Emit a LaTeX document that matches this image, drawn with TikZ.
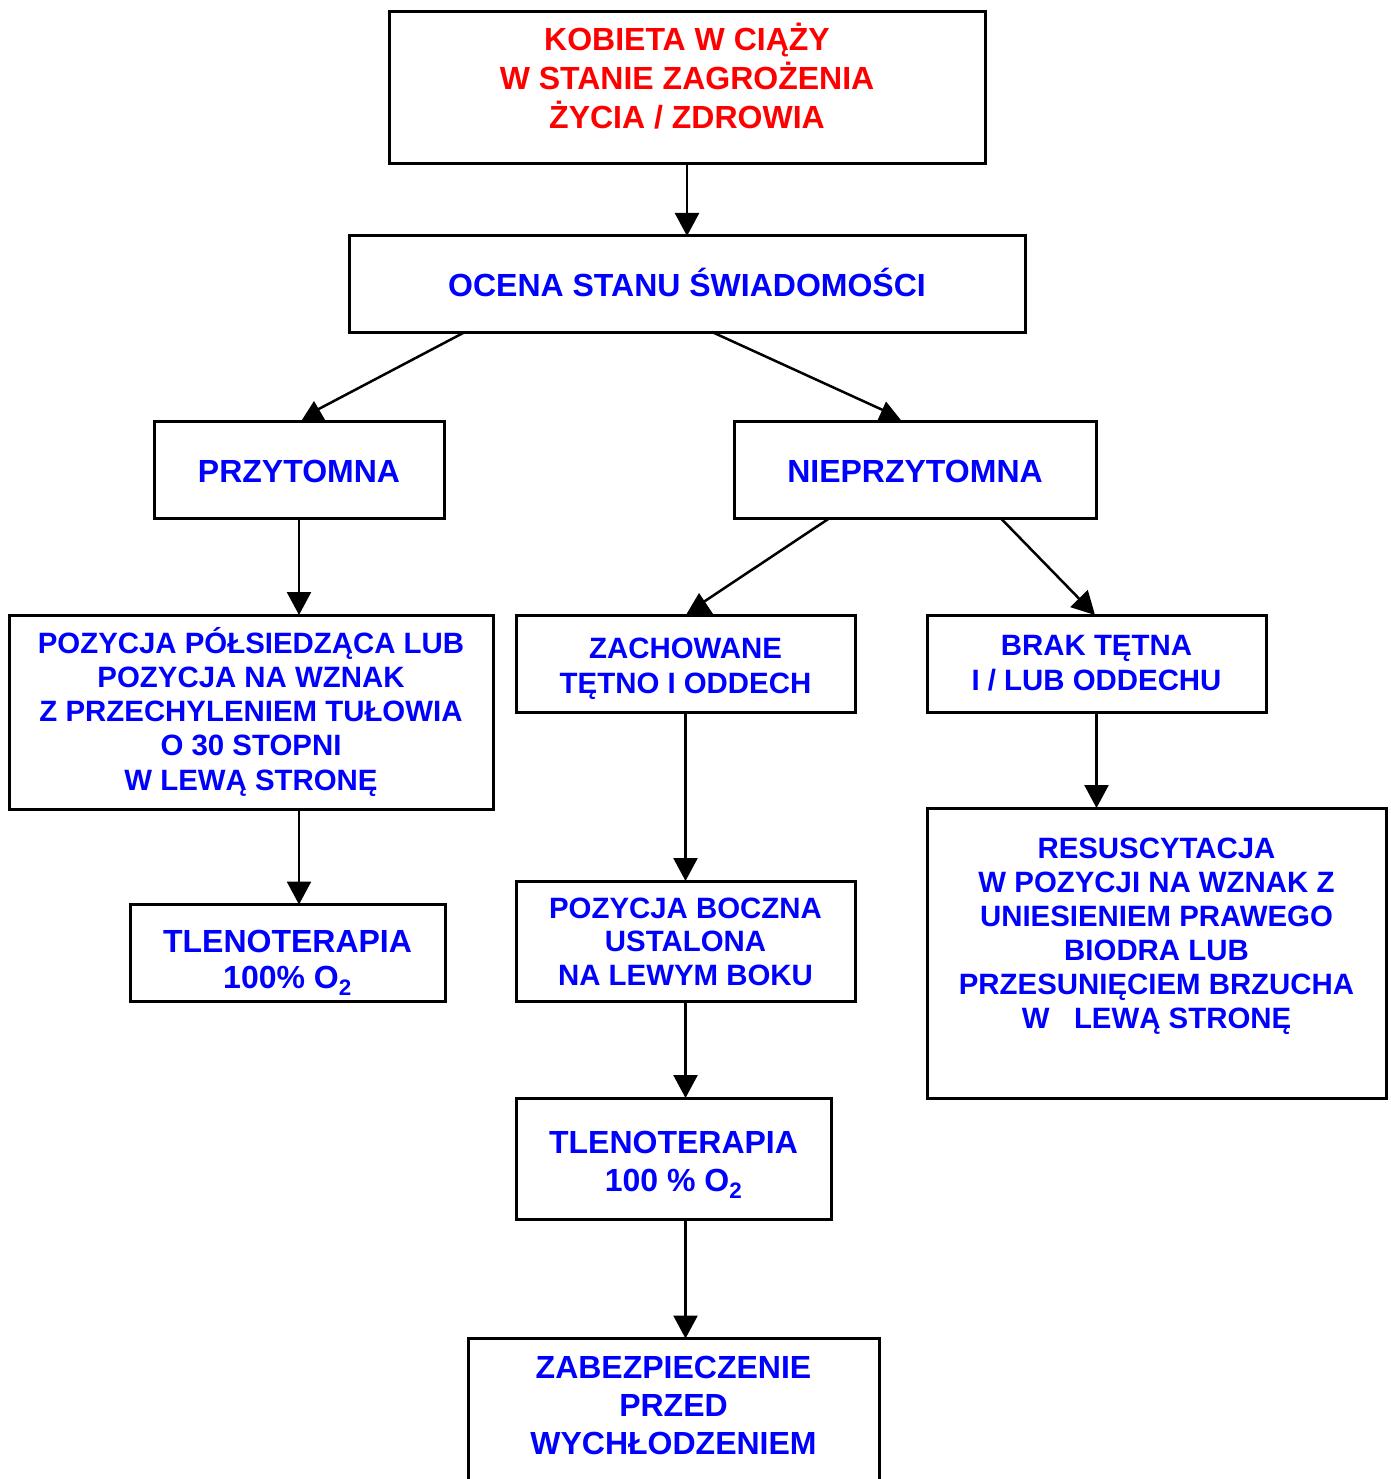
\documentclass[tikz,border=0pt]{standalone}
\usepackage{fontspec}
\setmainfont{Liberation Sans}
\usetikzlibrary{arrows.meta,calc}
\definecolor{tred}{RGB}{255,0,0}
\definecolor{tblue}{RGB}{0,0,255}
\newcommand\fa[1]{\fontsize{32}{#1}\selectfont}
\newcommand\fb[1]{\fontsize{29.4}{#1}\selectfont}
\newcommand\ml[1]{\setlength{\tabcolsep}{0pt}\begin{tabular}[t]{c}#1\end{tabular}}
\tikzset{
  box/.style={draw, line width=3pt, inner sep=0pt, outer sep=0pt},
  txt/.style={anchor=base, inner sep=0pt, outer sep=0pt, font=\bfseries, text=tblue},
  conn/.style={line width=2.5pt},
  arr/.style={conn, -{Triangle[length=23pt,width=24pt]}},
  headfill/.style={fill=black},
}
\begin{document}
\begin{tikzpicture}[x=1pt,y=-1pt]
\useasboundingbox (0,0) rectangle (1390,1479);
% boxes
\node[box, minimum width=596, minimum height=152] (top) at (687,88) {};
\node[box, minimum width=676, minimum height=96] (ocena) at (687,284) {};
\node[box, minimum width=290, minimum height=97] (przy) at (299,470) {};
\node[box, minimum width=362, minimum height=97] (nieprzy) at (915,470) {};
\node[box, minimum width=484, minimum height=194] (pozl) at (251,712) {};
\node[box, minimum width=339, minimum height=97] (zach) at (685.5,663.5) {};
\node[box, minimum width=339, minimum height=97] (brak) at (1096.5,663.5) {};
\node[box, minimum width=315, minimum height=97] (tlenol) at (287.5,953) {};
\node[box, minimum width=339, minimum height=120] (pozb) at (685.5,941) {};
\node[box, minimum width=459, minimum height=290] (resus) at (1156.5,953) {};
\node[box, minimum width=315, minimum height=121] (tlenom) at (673.5,1158.5) {};
\node[box, minimum width=411, minimum height=200] (zabez) at (673.5,1438.5) {};
% texts
\node[txt, text=tred] (topt) at (687,51) {\fa{37}\ml{KOBIETA W CIĄŻY\\W STANIE ZAGROŻENIA\\ŻYCIA / ZDROWIA}};
\node[txt] (ocenat) at (687,296) {\fa{37.5}OCENA STANU ŚWIADOMOŚCI};
\node[txt] (przyt) at (299,482) {\fa{37.5}PRZYTOMNA};
\node[txt] (nieprzyt) at (915,482) {\fa{37.5}NIEPRZYTOMNA};
\node[txt] (pozlt) at (251,653) {\fb{34.25}\ml{POZYCJA PÓŁSIEDZĄCA LUB\\POZYCJA NA WZNAK\\Z PRZECHYLENIEM TUŁOWIA\\O 30 STOPNI\\W LEWĄ STRONĘ}};
\node[txt] (zacht) at (685.5,658) {\fb{35}\ml{ZACHOWANE\\TĘTNO I ODDECH}};
\node[txt] (brakt) at (1096.5,655) {\fb{35}\ml{BRAK TĘTNA\\I / LUB ODDECHU}};
\node[txt] (tlenolt) at (287.5,952) {\fa{36}\ml{TLENOTERAPIA\\100\% O\textsubscript{2}}};
\node[txt] (pozbt) at (685.5,918) {\fb{33.5}\ml{POZYCJA BOCZNA\\USTALONA\\NA LEWYM BOKU}};
\node[txt] (resust) at (1156.5,858) {\fb{34}\ml{RESUSCYTACJA\\W POZYCJI NA WZNAK Z\\UNIESIENIEM PRAWEGO\\BIODRA LUB\\PRZESUNIĘCIEM BRZUCHA\\W~~~LEWĄ STRONĘ}};
\node[txt] (tlenomt) at (673.5,1153) {\fa{38.5}\ml{TLENOTERAPIA\\100 \% O\textsubscript{2}}};
\node[txt] (zabezt) at (673.5,1378) {\fa{38}\ml{ZABEZPIECZENIE\\PRZED\\WYCHŁODZENIEM}};
% connectors
\draw[arr] (top.south) -- (ocena.north);
% diagonal connectors with flat-based heads
\draw[conn] ($(ocena.south)+(-222,0)$) -- ($(przy.north)+(15,-10)$);
\fill[headfill] ($(przy.north)+(2,0)$) -- ($(przy.north)+(27,0)$) -- ($(przy.north)+(15,-20.5)$) -- cycle;
\draw[conn] ($(ocena.south)+(25,0)$) -- ($(nieprzy.north)+(-29,-10)$);
\fill[headfill] ($(nieprzy.north)+(-38,0)$) -- ($(nieprzy.north)+(-13,0)$) -- ($(nieprzy.north)+(-29,-20)$) -- cycle;
\draw[conn] ($(nieprzy.south)+(-86,0)$) -- ($(zach.north)+(13.5,-10)$);
\fill[headfill] ($(zach.north)+(0.5,0)$) -- ($(zach.north)+(27.5,-1)$) -- ($(zach.north)+(13.5,-22)$) -- cycle;
\draw[arr] ($(nieprzy.south)+(86,0)$) -- ($(brak.north)+(-1.5,0)$);
\draw[arr] (przy.south) -- (przy.south |- pozl.north);
\draw[arr] (przy.south |- pozl.south) -- (przy.south |- tlenol.north);
\draw[arr] (zach.south) -- (pozb.north);
\draw[arr] (brak.south) -- (brak.south |- resus.north);
\draw[arr] (pozb.south) -- (pozb.south |- tlenom.north);
\draw[arr] (pozb.south |- tlenom.south) -- (pozb.south |- zabez.north);
\end{tikzpicture}
\end{document}
